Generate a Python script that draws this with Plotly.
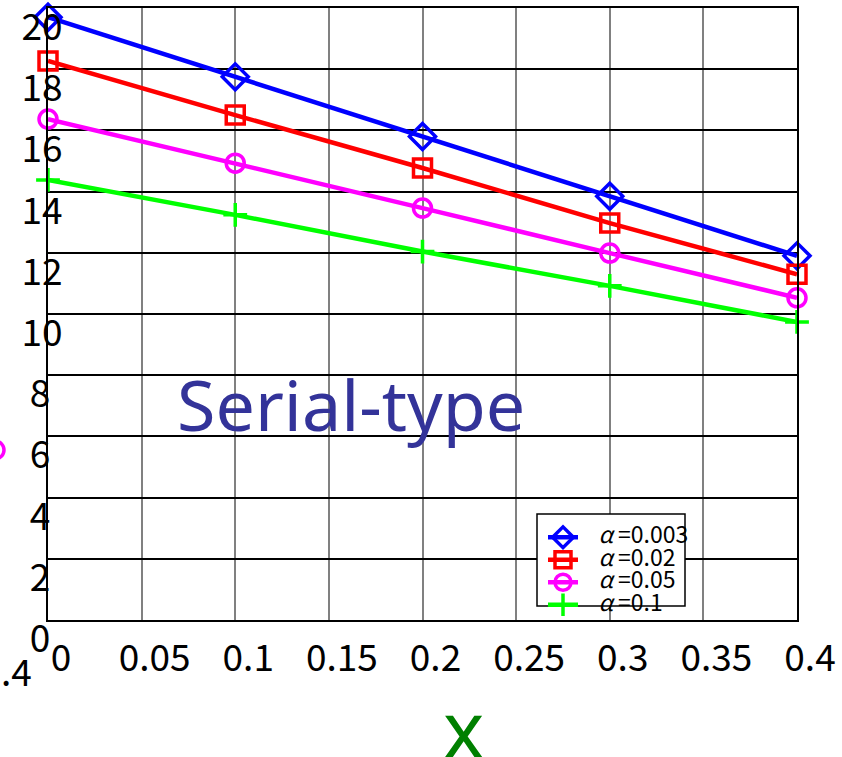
import plotly.graph_objects as go

# ---- data ----
x_vals = [0, 0.1, 0.2, 0.3, 0.4]
alpha_0003 = [19.7, 17.75, 15.8, 13.85, 11.9]
alpha_002 = [18.27, 16.5, 14.77, 12.97, 11.3]
alpha_005 = [16.37, 14.93, 13.46, 11.99, 10.53]
alpha_01 = [14.38, 13.24, 12.04, 10.92, 9.74]
series_names = ["0.003", "0.02", "0.05", "0.1"]
x_ticks = [0, 0.05, 0.1, 0.15, 0.2, 0.25, 0.3, 0.35, 0.4]
x_ticktext = ["0", "0.05", "0.1", "0.15", "0.2", "0.25", "0.3", "0.35", "0.4"]
y_ticks = [0, 2, 4, 6, 8, 10, 12, 14, 16, 18, 20]

W, H = 842, 757
L, R, T, B = 48, 45, 8, 137
PW, PH = W - L - R, H - T - B

def px(xp):
    return (xp - L) / PW

def py(yp):
    return (H - B - yp) / PH

TICKFONT = "Noto Sans CJK JP"

styles = [
    dict(color="#0000FF", symbol="diamond-open", size=20),
    dict(color="#FF0000", symbol="square-open", size=18),
    dict(color="#FF00FF", symbol="circle-open", size=18),
    dict(color="#00FF00", symbol="cross-thin-open", size=17),
]
series = [alpha_0003, alpha_002, alpha_005, alpha_01]

fig = go.Figure()
for name, ys, st in zip(series_names, series, styles):
    fig.add_trace(go.Scatter(
        x=x_vals, y=ys, mode="lines+markers",
        name="<span style='font-size:23px'>\u00a0\u00a0\u00a0<i>α</i>\u00a0=" + name + "</span>",
        line=dict(color=st["color"], width=4.5),
        marker=dict(symbol=st["symbol"], size=st["size"], color=st["color"],
                    line=dict(color=st["color"], width=3.5)),
        cliponaxis=False,
    ))

y_ticktext = [(str(v) if v >= 10 else str(v) + "\u2004") for v in y_ticks]

fig.update_layout(
    width=W, height=H,
    margin=dict(l=L, r=R, t=T, b=B, autoexpand=False),
    paper_bgcolor="white", plot_bgcolor="white",
    showlegend=True,
    legend=dict(
        x=px(543), y=py(521), xanchor="left", yanchor="top",
        bgcolor="rgba(0,0,0,0)", borderwidth=0,
        font=dict(family=TICKFONT, size=15, color="black"),
        itemwidth=30,
    ),
    xaxis=dict(
        range=[0, 0.4], tickvals=x_ticks, ticktext=x_ticktext,
        showgrid=True, gridcolor="#808080", gridwidth=2,
        showline=True, linecolor="black", linewidth=2, mirror=True,
        zeroline=False, ticks="",
        tickfont=dict(family=TICKFONT, size=37, color="black"),
        ticklabelshift=13, ticklabelstandoff=5, ticklabeloverflow="allow",
        automargin=False,
    ),
    yaxis=dict(
        range=[0, 20], tickvals=y_ticks, ticktext=y_ticktext,
        showgrid=True, gridcolor="black", gridwidth=1.5,
        showline=True, linecolor="black", linewidth=2, mirror=True,
        zeroline=False, ticks="",
        tickfont=dict(family=TICKFONT, size=37, color="black"),
        ticklabelshift=19, ticklabelstandoff=-24, ticklabeloverflow="allow",
        automargin=False,
    ),
    shapes=[
        dict(type="rect", xref="paper", yref="paper",
             x0=px(537), x1=px(685), y0=py(606), y1=py(514),
             fillcolor="white", line=dict(color="black", width=1.5), layer="above"),
        dict(type="circle", xref="paper", yref="paper",
             x0=px(-14), x1=px(4), y0=py(459), y1=py(441),
             line=dict(color="#FF00FF", width=3.5), layer="above"),
    ],
    annotations=[
        dict(text="Serial-type", xref="paper", yref="paper",
             x=px(351), y=py(404), xanchor="center", yanchor="middle",
             showarrow=False,
             font=dict(family="Noto Sans", size=70, color="#333399")),
        dict(text="x", xref="paper", yref="paper",
             x=px(463), y=py(728), xanchor="center", yanchor="middle",
             showarrow=False,
             font=dict(family="Noto Sans", size=78, color="#008000")),
        dict(text=".4", xref="paper", yref="paper",
             x=px(16), y=py(670), xanchor="center", yanchor="middle",
             showarrow=False,
             font=dict(family=TICKFONT, size=37, color="black")),
    ],
)

fig.write_html(
    "out.html",
    config={"displayModeBar": False},
    post_script="document.body.style.margin='0';document.body.style.padding='0';",
)
